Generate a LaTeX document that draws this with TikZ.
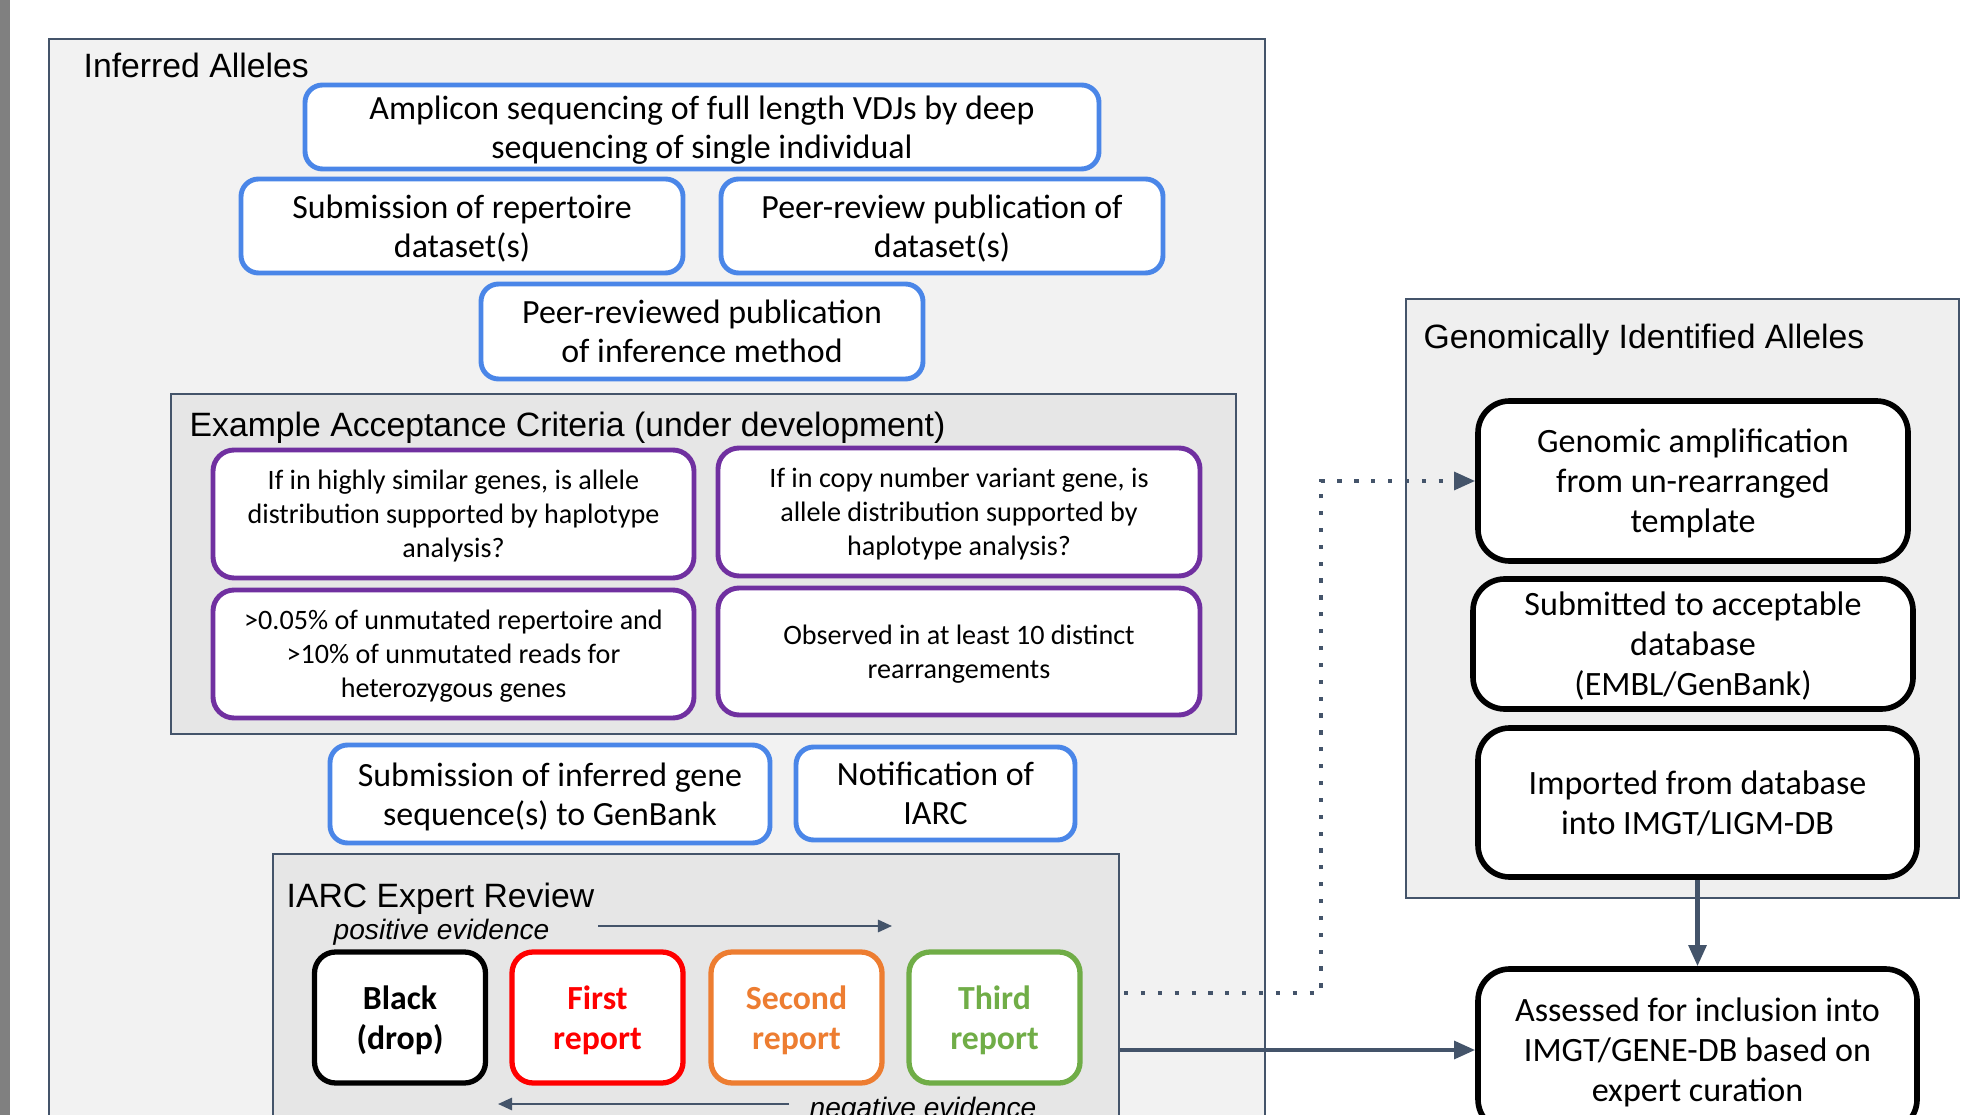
\documentclass[tikz,border=0pt]{standalone}
\usepackage{fontspec}
\setmainfont{Carlito}
\newfontfamily\arialfont{Liberation Sans}
\usepackage{tikz}
\usetikzlibrary{arrows.meta, positioning}

\definecolor{slate}{RGB}{68,84,106}
\definecolor{boxblue}{RGB}{74,134,232}
\definecolor{boxpurple}{RGB}{112,48,160}
\definecolor{boxorange}{RGB}{237,125,49}
\definecolor{boxgreen}{RGB}{112,173,71}
\definecolor{fillA}{RGB}{242,242,242}
\definecolor{fillB}{RGB}{230,230,230}
\definecolor{fillC}{RGB}{239,239,239}

\begin{document}
\begin{tikzpicture}[>={Triangle[length=6pt,width=5pt]},
    grp/.style={draw=slate, line width=0.6pt, anchor=north west, inner sep=0pt},
    gtitle/.style={anchor=base west, inner sep=0pt, font=\arialfont\fontsize{9.6}{11.5}\selectfont},
    evid/.style={anchor=base west, inner sep=0pt, font=\arialfont\itshape\fontsize{8}{9.6}\selectfont},
    % same depth under the last line of every text block
    txt/.style={align=center, inner sep=0pt, text depth=-1.6pt},
    bluebox/.style={txt, draw=boxblue, line width=1.4pt, fill=white, rounded corners=5pt,
        font=\fontsize{9.65}{11.2}\selectfont},
    critbox/.style={txt, draw=boxpurple, line width=1.4pt, fill=white, rounded corners=6pt,
        minimum height=1.28cm, font=\fontsize{8}{9.7}\selectfont},
    revbox/.style={txt, line width=1.5pt, fill=white, rounded corners=6pt,
        minimum width=1.71cm, minimum height=1.31cm, font=\bfseries\fontsize{9.6}{11.4}\selectfont},
    genbox/.style={txt, draw=black, line width=1.6pt, fill=white, rounded corners=9pt,
        font=\fontsize{9.7}{11.4}\selectfont},
    conn/.style={draw=slate, line width=1.2pt},
    dotconn/.style={draw=slate, line width=1.2pt, dash pattern=on 1.2pt off 3.6pt},
    thinconn/.style={draw=slate, line width=0.6pt, >={Triangle[length=4pt,width=3.5pt]}}]
    % page size and left strip
    \useasboundingbox (0,0) rectangle (19.78,-11.15);
    \clip (0,0) rectangle (19.78,-11.15);
    \fill[gray] (0,0) rectangle (0.10,-11.15);

    % --- Inferred alleles ---
    \def\bw{4.42}
    \node[grp, fill=fillA, minimum width=12.16cm, minimum height=11.2cm] (inferred) at (0.48,-0.38) {};
    \node[gtitle] (inftitle) at (0.83,-0.78) {Inferred Alleles};

    \node[bluebox, minimum width=7.94cm, minimum height=0.84cm] (amp) at (7.02,-1.27)
        {Amplicon sequencing of full length VDJs by deep\\sequencing of single individual};
    \node[bluebox, minimum width=\bw cm, minimum height=0.94cm] (subrep) at (4.62,-2.26)
        {Submission of repertoire\\dataset(s)};
    \node[bluebox, minimum width=\bw cm, minimum height=0.94cm] (peerdata) at (9.42,-2.26)
        {Peer-review publication of\\dataset(s)};
    \node[bluebox, minimum width=\bw cm, minimum height=0.95cm] (peermeth) at (7.02,-3.315)
        {Peer-reviewed publication\\of inference method};

    % acceptance criteria
    \node[grp, fill=fillB, minimum width=10.65cm, minimum height=3.40cm] (criteria) at (1.70,-3.93) {};
    \node[gtitle] (crittitle) at (1.89,-4.37) {Example Acceptance Criteria (under development)};
    \node[critbox, minimum width=4.81cm] (sim) at (4.535,-5.14)
        {If in highly similar genes, is allele\\distribution supported by haplotype\\analysis?};
    \node[critbox, minimum width=4.82cm] (cnv) at (9.59,-5.12)
        {If in copy number variant gene, is\\allele distribution supported by\\haplotype analysis?};
    \node[critbox, minimum width=4.81cm] (freq) at (4.535,-6.54)
        {>0.05\% of unmutated repertoire and\\>10\% of unmutated reads for\\heterozygous genes};
    \node[critbox, minimum width=4.82cm, minimum height=1.27cm] (obs) at (9.59,-6.515)
        {Observed in at least 10 distinct\\rearrangements};

    \node[bluebox, minimum width=4.40cm, minimum height=0.98cm] (subgen) at (5.50,-7.94)
        {Submission of inferred gene\\sequence(s) to GenBank};
    \node[bluebox, minimum width=2.79cm, minimum height=0.93cm] (notif) at (9.355,-7.935)
        {Notification of\\IARC};

    % expert review
    \node[grp, fill=fillB, minimum width=8.465cm, minimum height=3.2cm] (review) at (2.715,-8.53) {};
    \node[gtitle] (revtitle) at (2.86,-9.07) {IARC Expert Review};
    \node[evid] (pos) at (3.33,-9.39) {positive evidence};
    \node[revbox, draw=black] (drop) at (4.00,-10.175) {Black\\(drop)};
    \node[revbox, draw=red, text=red] (first) at (5.975,-10.175) {First\\report};
    \node[revbox, draw=boxorange, text=boxorange] (second) at (7.965,-10.175) {Second\\report};
    \node[revbox, draw=boxgreen, text=boxgreen] (third) at (9.945,-10.175) {Third\\report};
    \node[evid] (neg) at (8.09,-11.17) {negative evidence};
    \coordinate (posA) at (5.98,-9.26);
    \coordinate (posB) at (8.92,-9.26);
    \coordinate (negA) at (7.89,-11.04);
    \coordinate (negB) at (4.98,-11.04);
    \draw[thinconn, ->] (posA) -- (posB);
    \draw[thinconn, ->] (negA) -- (negB);

    % --- Genomically identified alleles ---
    \node[grp, fill=fillC, minimum width=5.53cm, minimum height=5.99cm] (genomic) at (14.05,-2.98) {};
    \node[gtitle] (gentitle) at (14.23,-3.49) {Genomically Identified Alleles};
    \node[genbox, minimum width=4.30cm, minimum height=1.60cm] (gamp) at (16.93,-4.81)
        {Genomic amplification\\from un-rearranged\\template};
    \node[genbox, minimum width=4.40cm, minimum height=1.30cm] (gsub) at (16.93,-6.44)
        {Submitted to acceptable\\database\\(EMBL/GenBank)};
    \node[genbox, minimum width=4.39cm, minimum height=1.49cm] (gimp) at (16.975,-8.025)
        {Imported from database\\into IMGT/LIGM-DB};
    \node[genbox, minimum width=4.39cm, minimum height=1.62cm] (assess) at (16.975,-10.50)
        {Assessed for inclusion into\\IMGT/GENE-DB based on\\expert curation};

    % connectors
    \draw[conn, ->] (gimp) -- (assess);
    \draw[conn, ->] (review.east |- assess.west) -- (assess.west);
    \coordinate (dotstart) at (11.24,-9.93);
    \draw[dotconn, ->] (dotstart) -- ++(1.97,0) |- (gamp.west);
\end{tikzpicture}
\end{document}
